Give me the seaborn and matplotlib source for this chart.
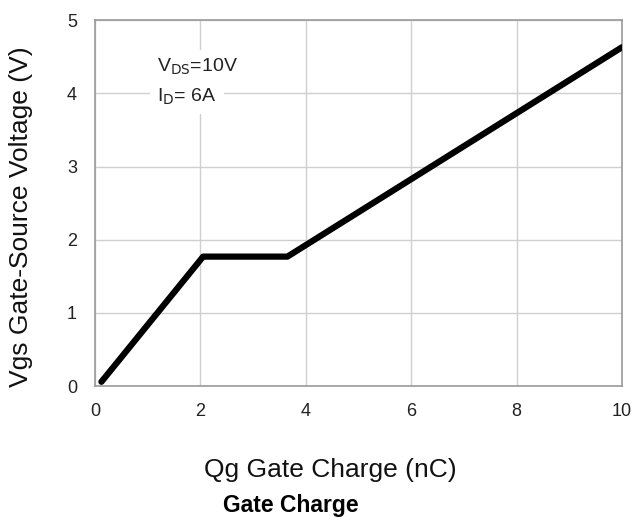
import matplotlib
matplotlib.use("Agg")
import matplotlib.pyplot as plt
import seaborn as sns
import pandas as pd

qg = [0.12, 2.05, 3.65, 10.0]
vgs = [0.06, 1.77, 1.77, 4.63]
x_ticks = [0, 2, 4, 6, 8, 10]
y_ticks = [0, 1, 2, 3, 4, 5]

sns.set_theme(style="white")
plt.rcParams['font.family'] = ['Liberation Sans', 'DejaVu Sans']

fig = plt.figure(figsize=(6.34, 5.17), dpi=100)
ax = fig.add_axes([0.150, 0.253, 0.831, 0.708])

df = pd.DataFrame({"Qg": qg, "Vgs": vgs})
sns.lineplot(data=df, x="Qg", y="Vgs", ax=ax, color="black", linewidth=4.5,
             sort=False, solid_capstyle="round", solid_joinstyle="round", zorder=3)

ax.set_xlim(0, 10)
ax.set_ylim(0, 5)
ax.set_xticks(x_ticks)
ax.set_yticks(y_ticks)
ax.grid(True, color="#cfcfcf", linewidth=1.0)
for s in ax.spines.values():
    s.set_color("#9a9a9a")
    s.set_linewidth(1.2)
ax.tick_params(axis="x", length=0, labelsize=13, colors="#222222", pad=12)
ax.tick_params(axis="y", length=0, labelsize=13, colors="#222222", pad=13)

ax.set_xlabel("Qg Gate Charge (nC)", fontsize=19, color="#111111")
ax.xaxis.label.set_va("baseline")
ax.xaxis.set_label_coords(0.446, -0.249)
ax.set_ylabel("Vgs Gate-Source Voltage (V)", fontsize=19, color="#111111")
ax.yaxis.set_label_coords(-0.118, 0.462)

bbox = dict(facecolor="white", edgecolor="none", pad=5)
ax.text(1.18, 4.29, "V$_{\\mathrm{DS}}$=10V", fontsize=14, color="#222222",
        va="baseline", ha="left", bbox=bbox, zorder=4)
ax.text(1.18, 3.88, "I$_{\\mathrm{D}}$= 6A", fontsize=14, color="#222222",
        va="baseline", ha="left", bbox=bbox, zorder=4)

fig.text(223 / 634, 1 - 512 / 517, "Gate Charge", fontsize=16.5,
         fontweight="bold", ha="left", va="baseline", color="black")

fig.savefig("out.png", dpi=100, facecolor="white")
